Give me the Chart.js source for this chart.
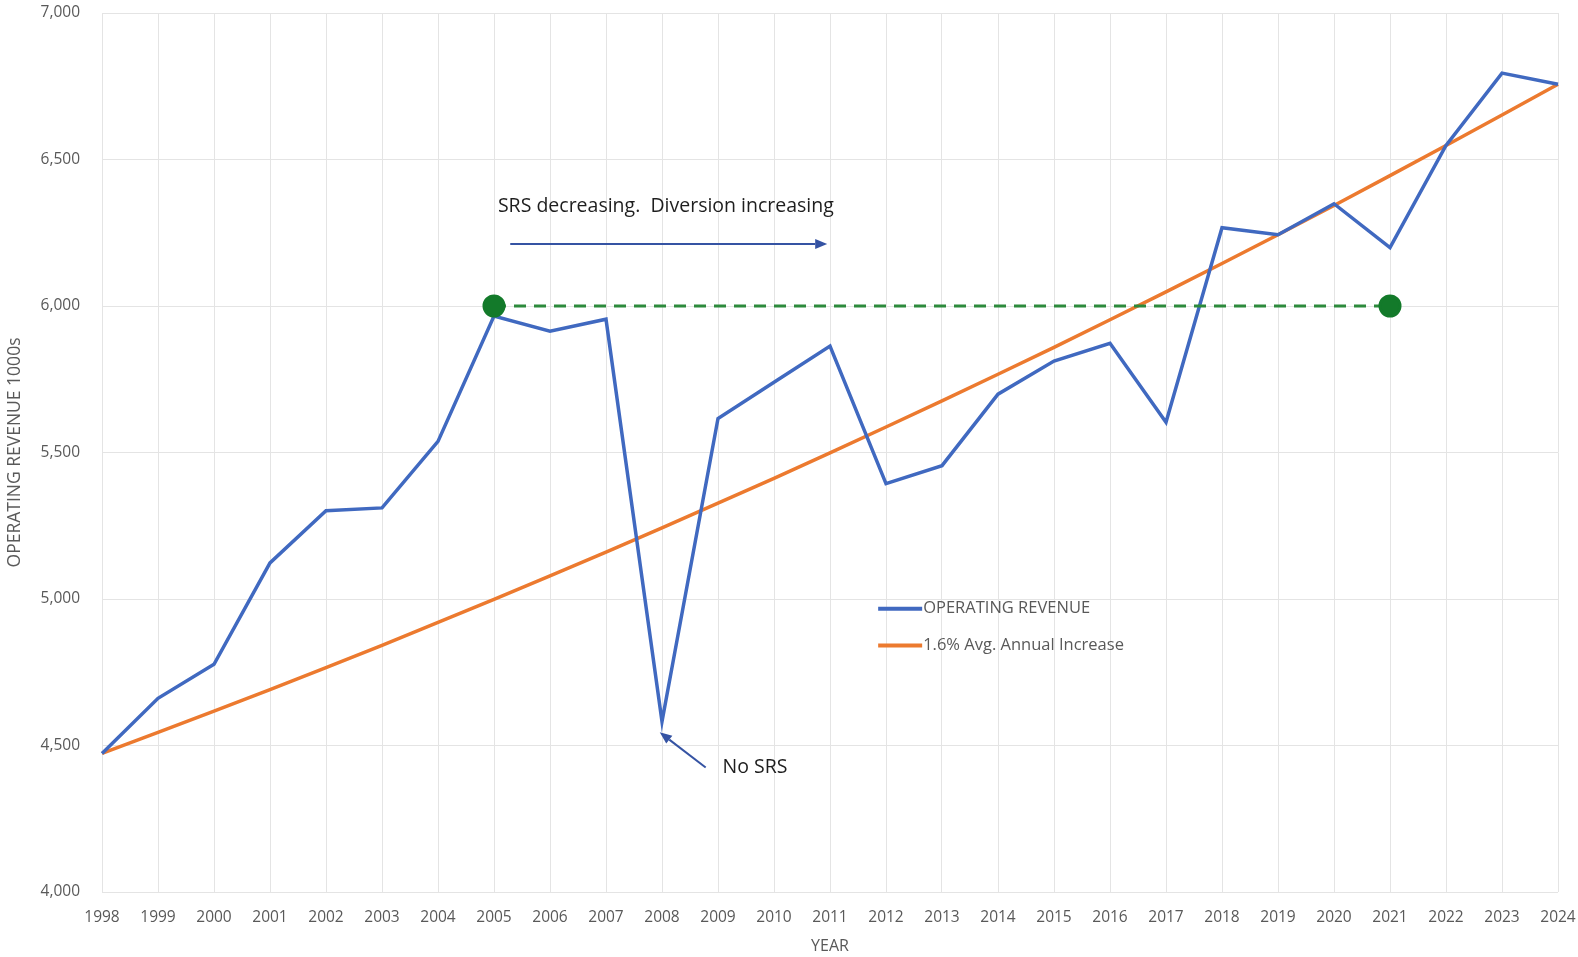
<!DOCTYPE html>
<html>
<head>
<meta charset="utf-8">
<script src="https://cdn.jsdelivr.net/npm/chart.js@4.4.1/dist/chart.umd.min.js"></script>
<style>
  html, body { margin: 0; padding: 0; background: #fff; }
  #wrap { width: 1578px; height: 957px; position: relative; }
</style>
</head>
<body>
<div id="wrap"><canvas id="revChart"></canvas></div>
<script>
// Years on the x axis
const years = ['1998','1999','2000','2001','2002','2003','2004','2005','2006','2007','2008','2009','2010',
               '2011','2012','2013','2014','2015','2016','2017','2018','2019','2020','2021','2022','2023','2024'];

// Operating revenue (1000s)
const revenue = [4473, 4661, 4777, 5123, 5301, 5311, 5538, 5966, 5914, 5955, 4582, 5616, 5740,
                 5863, 5394, 5455, 5699, 5812, 5873, 5603, 6267, 6243, 6349, 6199, 6548, 6795, 6757];

// 1.6% average annual increase trend line
const trend = [4473, 4545, 4617, 4691, 4766, 4842, 4920, 4999, 5079, 5160, 5243, 5327, 5412,
               5499, 5587, 5676, 5767, 5859, 5953, 6048, 6145, 6243, 6343, 6445, 6548, 6652, 6757];

// 6,000 reference level between 2005 and 2021
const level = [null, null, null, null, null, null, null, 6000, null, null, null, null, null,
               null, null, null, null, null, null, null, null, null, null, 6000, null, null, null];

const yTicks = [4000, 4500, 5000, 5500, 6000, 6500, 7000];

const FONT = "'Open Sans', 'Liberation Sans', sans-serif";
const GREY = '#595959';

// Annotations drawn through the scales (x as fractional index, y as value)
const notes = [
    { text: 'SRS decreasing.  Diversion increasing', x: 7.07, y: 6339 },
    { text: 'No SRS', x: 11.08, y: 4425 }
];
const arrows = [
    { from: [7.29, 6212], to: [12.95, 6212] },
    { from: [10.78, 4425], to: [9.96, 4545] }
];

const overlay = {
    id: 'overlay',
    afterDatasetsDraw(chart) {
        const ctx = chart.ctx;
        const xs = chart.scales.x, ys = chart.scales.y;
        const px = v => xs.left + (xs.right - xs.left) * v / (years.length - 1);
        ctx.save();

        // arrows
        ctx.strokeStyle = '#3553a3';
        ctx.fillStyle = '#3553a3';
        ctx.lineWidth = 2;
        arrows.forEach(a => {
            const x1 = px(a.from[0]), y1 = ys.getPixelForValue(a.from[1]);
            const x2 = px(a.to[0]), y2 = ys.getPixelForValue(a.to[1]);
            const ang = Math.atan2(y2 - y1, x2 - x1);
            const hl = 12, hw = 5;
            ctx.beginPath();
            ctx.moveTo(x1, y1);
            ctx.lineTo(x2 - hl * Math.cos(ang), y2 - hl * Math.sin(ang));
            ctx.stroke();
            ctx.beginPath();
            ctx.moveTo(x2, y2);
            ctx.lineTo(x2 - hl * Math.cos(ang) - hw * Math.sin(ang), y2 - hl * Math.sin(ang) + hw * Math.cos(ang));
            ctx.lineTo(x2 - hl * Math.cos(ang) + hw * Math.sin(ang), y2 - hl * Math.sin(ang) - hw * Math.cos(ang));
            ctx.closePath();
            ctx.fill();
        });

        // text notes
        ctx.fillStyle = '#1e1e1e';
        ctx.font = '19.5px ' + FONT;
        ctx.textBaseline = 'middle';
        ctx.textAlign = 'left';
        notes.forEach(n => ctx.fillText(n.text, px(n.x), ys.getPixelForValue(n.y)));

        // legend inside the plot
        const legendRows = [4967, 4841];
        const lx = px(13.86);
        ctx.font = '16.5px ' + FONT;
        chart.data.datasets.slice(0, 2).forEach((ds, i) => {
            const ly = ys.getPixelForValue(legendRows[i]);
            ctx.strokeStyle = ds.borderColor;
            ctx.lineWidth = 4;
            ctx.beginPath();
            ctx.moveTo(lx, ly);
            ctx.lineTo(lx + 44, ly);
            ctx.stroke();
            ctx.fillStyle = GREY;
            ctx.fillText(ds.label, lx + 45, ly);
        });
        ctx.restore();
    }
};

const ctx = document.getElementById('revChart').getContext('2d');
const revChart = new Chart(ctx, {
    type: 'line',
    data: {
        labels: years,
        datasets: [{
            label: 'OPERATING REVENUE',
            data: revenue,
            borderColor: '#4069c0',
            borderWidth: 3.5,
            pointRadius: 0,
            tension: 0,
            order: 1
        }, {
            label: '1.6% Avg. Annual Increase',
            data: trend,
            borderColor: '#ec7a2f',
            borderWidth: 3.5,
            pointRadius: 0,
            tension: 0,
            order: 2
        }, {
            label: '6,000 level',
            data: level,
            borderColor: '#2c8a3c',
            borderWidth: 3,
            borderDash: [12, 8],
            spanGaps: true,
            pointRadius: 10,
            pointBackgroundColor: '#137a2a',
            pointBorderColor: '#137a2a',
            order: 0
        }]
    },
    options: {
        responsive: true,
        maintainAspectRatio: false,
        animation: false,
        layout: { padding: { top: 7, right: 20, left: 0, bottom: 0 } },
        plugins: {
            legend: { display: false },
            tooltip: { enabled: false }
        },
        scales: {
            x: {
                grid: { color: '#e4e4e4', drawTicks: false },
                border: { display: false },
                ticks: { color: GREY, font: { family: FONT, size: 15.5 }, padding: 16, maxRotation: 0, autoSkip: false },
                title: { display: true, text: 'YEAR', color: GREY, font: { family: FONT, size: 16 }, padding: { top: 4, bottom: 1 } },
                afterFit(scale) {
                    scale.height = 65;
                    scale.paddingLeft = 0;
                    scale.paddingRight = 0;
                }
            },
            y: {
                min: 4000,
                max: 7000,
                grid: { color: '#e4e4e4', drawTicks: false },
                border: { display: false },
                afterBuildTicks(scale) { scale.ticks = yTicks.map(v => ({ value: v })); },
                ticks: {
                    color: GREY,
                    font: { family: FONT, size: 15.5 },
                    padding: 22,
                    callback: v => v.toLocaleString('en-US')
                },
                title: { display: true, text: 'OPERATING REVENUE 1000s', color: GREY, font: { family: FONT, size: 17.5 }, padding: { top: 4.5, bottom: 4 } },
                afterFit(scale) {
                    scale.width = 102;
                    scale.paddingTop = 0;
                    scale.paddingBottom = 0;
                }
            }
        }
    },
    plugins: [overlay]
});
</script>
</body>
</html>
